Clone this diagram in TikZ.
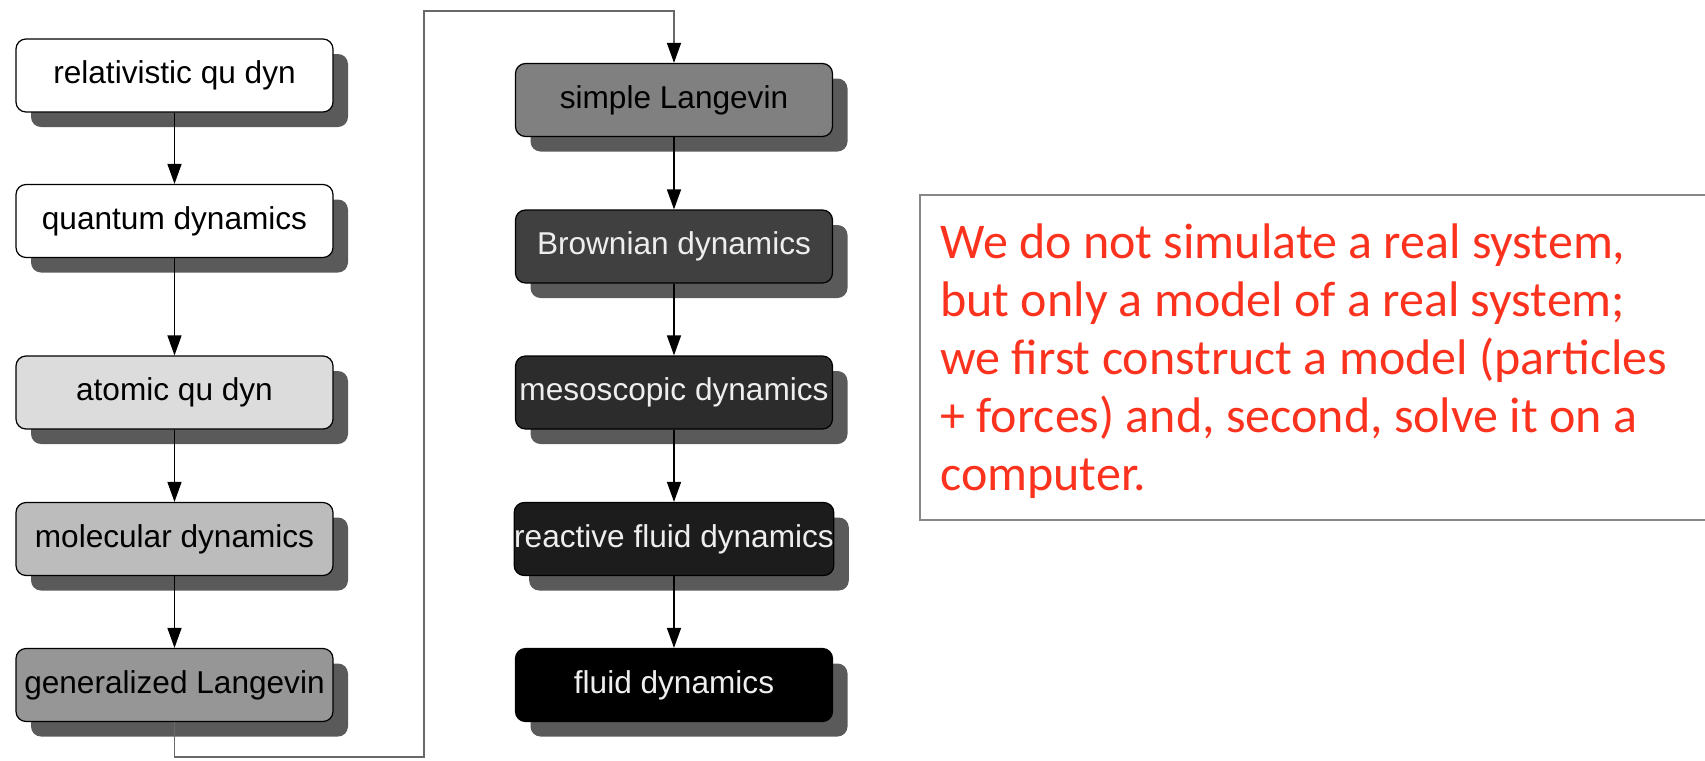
\documentclass[tikz,border=0pt]{standalone}
\usepackage{fontspec}
\setmainfont{Liberation Sans}
\newfontfamily\notefont{Carlito}
\usetikzlibrary{arrows.meta}
\usetikzlibrary{shadows}
\definecolor{shadowgrey}{RGB}{90,90,90}
\definecolor{notered}{RGB}{250,50,30}
\definecolor{loopgrey}{RGB}{105,105,105}
\definecolor{framegrey}{RGB}{135,135,135}
\definecolor{lighttext}{RGB}{238,238,238}
\tikzset{dynbox/.style={draw=black, line width=0.6pt, rounded corners=5pt,
  minimum width=158.5pt, minimum height=36.5pt, inner sep=0pt,
  font=\fontsize{15.8}{18}\selectfont,
  drop shadow={shadow xshift=7.5pt, shadow yshift=-7.5pt, fill=shadowgrey, opacity=1}}}
\tikzset{flow/.style={-{Triangle[width=7pt,length=10pt,color=black]}, line width=0.7pt}}

\begin{document}
\begin{tikzpicture}[x=0.5pt,y=-0.5pt]
    \useasboundingbox (0,0) rectangle (1705,761);
      \node[dynbox, fill=white] (rqd) at (174.5,75.5) {relativistic qu dyn};
      \node[dynbox, fill=white] (qd) at (174.5,221) {quantum dynamics};
      \node[dynbox, fill={rgb,255:red,220;green,220;blue,220}] (aqd) at (174.5,392.5) {atomic qu dyn};
      \node[dynbox, fill={rgb,255:red,188;green,188;blue,188}] (md) at (174.5,539) {molecular dynamics};
      \node[dynbox, fill={rgb,255:red,150;green,150;blue,150}] (gl) at (174.5,685) {generalized Langevin};

      \node[dynbox, fill={rgb,255:red,128;green,128;blue,128}] (sl) at (674,100) {simple Langevin};
      \node[dynbox, fill={rgb,255:red,64;green,64;blue,64}, text=lighttext] (bd) at (674,246.5) {Brownian dynamics};
      \node[dynbox, fill={rgb,255:red,44;green,44;blue,44}, text=lighttext] (msd) at (674,392.5) {mesoscopic dynamics};
      \node[dynbox, fill={rgb,255:red,28;green,28;blue,28}, text=lighttext] (rfd) at (674,539) {reactive fluid dynamics};
      \node[dynbox, fill=black, text=lighttext] (fd) at (674,685) {fluid dynamics};

      \draw[flow] (rqd) -- (qd);
      \draw[flow] (qd) -- (aqd);
      \draw[flow] (aqd) -- (md);
      \draw[flow] (md) -- (gl);
      \draw[flow] (sl) -- (bd);
      \draw[flow] (bd) -- (msd);
      \draw[flow] (msd) -- (rfd);
      \draw[flow] (rfd) -- (fd);
      \coordinate (turn) at (424,757);
      \coordinate (top) at (424,11);
      \draw[flow, draw=loopgrey] (gl.south) |- (turn) -- (top) -| (sl.north);

      \draw[framegrey, line width=1.2pt] (1712,195) -- (920,195) -- (920,520) -- (1712,520);
      \node[anchor=base west, align=left, inner sep=0pt, text=notered,
        font=\notefont\fontsize{25}{29}\selectfont] (note) at (940,490)
        {We do not simulate a real system,\\
         but only a model of a real system;\\
         we first construct a model (particles\\
         + forces) and, second, solve it on a\\
         computer.};
    \end{tikzpicture}
\end{document}
